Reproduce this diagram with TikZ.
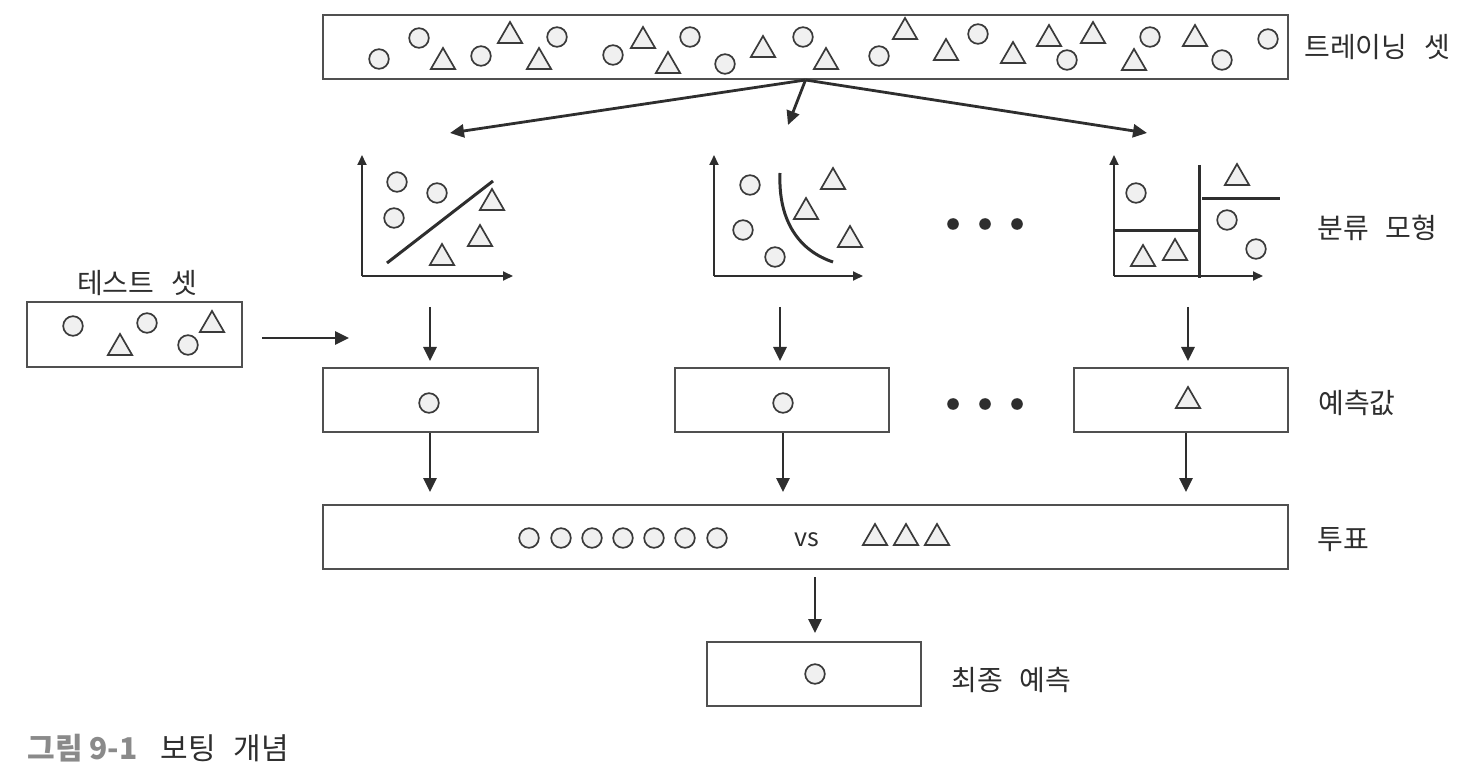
\documentclass[tikz,border=0pt]{standalone}
\usepackage{fontspec}
\setmainfont{Noto Sans CJK KR}
\usetikzlibrary{shapes.geometric,arrows.meta}
\definecolor{edge}{HTML}{505050}
\definecolor{shp}{HTML}{3A3A3A}
\definecolor{shpfill}{HTML}{F0F0F0}
\definecolor{ink}{HTML}{2E2E2E}
\definecolor{capgray}{HTML}{8A8A8A}
\newcommand\wsp{\hspace{0.6em}}
\begin{document}
\begin{tikzpicture}[x=0.5pt,y=-0.5pt,
  cir/.style={circle,draw=shp,fill=shpfill,line width=0.85pt,minimum size=9.8pt,inner sep=0pt},
  tri/.style={regular polygon,regular polygon sides=3,draw=shp,fill=shpfill,line width=0.85pt,minimum size=14pt,inner sep=0pt},
  boxn/.style={draw=edge,line width=1pt,fill=white,inner sep=0pt},
  arr/.style={draw=ink,line width=1.4pt,-{Triangle[length=7pt,width=6.5pt]}},
  axis/.style={draw=ink,line width=0.9pt,-{Triangle[length=5pt,width=4.5pt]}},
  sep/.style={draw=ink,line width=1.5pt},
  lbl/.style={anchor=west,inner sep=0pt,text=ink,font=\fontsize{14}{16}\selectfont},
  bigdot/.style={circle,fill=ink,minimum size=5.8pt,inner sep=0pt}
]
\useasboundingbox (0,0) rectangle (1482,780);

% training set
\node[boxn,minimum width=482.5pt,minimum height=32pt] (train) at (805.5,47) {};
\foreach \x/\y [count=\i] in {379/59,419/38,481/56,557/37,613/55,690/37,725/64,803/37,879/56,978/34,1067/60,1150/37,1222/60,1268/39}
  \node[cir] (tc\i) at (\x,\y) {};
\foreach \x/\y [count=\i] in {443/62,510/36,539/62,643/41,668/66,763/50,826/62,905/32,946/53,1013/56,1049/39,1093/36,1134/63,1195/39}
  \node[tri] (tt\i) at (\x,\y) {};
\node[lbl] (trainlbl) at (1304,47) {트레이닝\wsp 셋};

% arrows to models
\coordinate (in1) at (450,133);
\coordinate (in2) at (788,125);
\coordinate (in3) at (1147,133);
\draw[arr] (train.south) -- (in1);
\draw[arr] (train.south) -- (in2);
\draw[arr] (train.south) -- (in3);

% plot 1
\coordinate (o1) at (362,276);
\coordinate (y1) at (362,155);
\coordinate (x1) at (513,276);
\draw[axis] (o1) -- (y1);
\draw[axis] (o1) -- (x1);
\coordinate (l1a) at (387,263);
\coordinate (l1b) at (493,181);
\draw[sep] (l1a) -- (l1b);
\foreach \x/\y [count=\i] in {397/182,437/193,394/218}
  \node[cir] (ac\i) at (\x,\y) {};
\foreach \x/\y [count=\i] in {492/203,480/239,442/258}
  \node[tri] (at\i) at (\x,\y) {};

% plot 2
\coordinate (o2) at (714,276);
\coordinate (y2) at (714,155);
\coordinate (x2) at (863,276);
\draw[axis] (o2) -- (y2);
\draw[axis] (o2) -- (x2);
\coordinate (c2a) at (780,173);
\coordinate (c2b) at (833,262);
\draw[sep] (c2a) .. controls (778,222) and (800,251) .. (c2b);
\foreach \x/\y [count=\i] in {750/185,743/230,775/257}
  \node[cir] (bc\i) at (\x,\y) {};
\foreach \x/\y [count=\i] in {833/182,806/212,850/240}
  \node[tri] (bt\i) at (\x,\y) {};

% plot 3
\coordinate (o3) at (1114,276);
\coordinate (y3) at (1114,155);
\coordinate (x3) at (1263,276);
\draw[axis] (o3) -- (y3);
\draw[axis] (o3) -- (x3);
\coordinate (v3a) at (1199,165);
\coordinate (v3b) at (1199,278);
\draw[sep] (v3a) -- (v3b);
\coordinate (h3a) at (1114,231);
\coordinate (h3b) at (1199,231);
\draw[sep] (h3a) -- (h3b);
\coordinate (h3c) at (1202,199);
\coordinate (h3d) at (1280,199);
\draw[sep] (h3c) -- (h3d);
\foreach \x/\y [count=\i] in {1136/193,1227/220,1256/249}
  \node[cir] (cc\i) at (\x,\y) {};
\foreach \x/\y [count=\i] in {1237/178,1143/259,1175/253}
  \node[tri] (ct\i) at (\x,\y) {};

% dots
\node[bigdot] (d1) at (953,224) {};
\node[bigdot] (d2) at (985,224) {};
\node[bigdot] (d3) at (1017,224) {};
\node[lbl] (modellbl) at (1317,228) {분류\wsp 모형};

% test set
\node[inner sep=0pt,text=ink,font=\fontsize{14}{16}\selectfont] (testlbl) at (137,283) {테스트\wsp 셋};
\node[boxn,minimum width=107.5pt,minimum height=32.5pt] (test) at (134.5,334.5) {};
\node[cir] (sc1) at (73,326) {};
\node[cir] (sc2) at (147,323) {};
\node[cir] (sc3) at (188,345) {};
\node[tri] (st1) at (120,348) {};
\node[tri] (st2) at (212,325) {};
\coordinate (ta) at (262,338);
\coordinate (tb) at (349,338);
\draw[arr] (ta) -- (tb);

% model -> prediction
\node[boxn,minimum width=107.5pt,minimum height=32pt] (pred1) at (430.5,400) {};
\node[boxn,minimum width=107pt,minimum height=32pt] (pred2) at (782,400) {};
\node[boxn,minimum width=107pt,minimum height=32pt] (pred3) at (1181,400) {};
\node[cir] (pc1) at (429,403) {};
\node[cir] (pc2) at (783,403) {};
\node[tri] (pt3) at (1188,401) {};
\coordinate (m1) at (430,307);
\coordinate (m2) at (780,307);
\coordinate (m3) at (1188,307);
\draw[arr,shorten >=3pt] (m1) -- (m1 |- pred1.north);
\draw[arr,shorten >=3pt] (m2) -- (m2 |- pred2.north);
\draw[arr,shorten >=3pt] (m3) -- (m3 |- pred3.north);
\node[bigdot] (e1) at (953,404) {};
\node[bigdot] (e2) at (985,404) {};
\node[bigdot] (e3) at (1017,404) {};
\node[lbl] (predlbl) at (1318,403) {예측값};

% vote
\node[boxn,minimum width=482.5pt,minimum height=32pt] (vote) at (805.5,537) {};
\coordinate (q1) at (430,433);
\coordinate (q2) at (783,433);
\coordinate (q3) at (1186,433);
\draw[arr,shorten >=6pt] (q1) -- (q1 |- vote.north);
\draw[arr,shorten >=6pt] (q2) -- (q2 |- vote.north);
\draw[arr,shorten >=6pt] (q3) -- (q3 |- vote.north);
\foreach \x [count=\i] in {529,561,592,623,654,685,717}
  \node[cir] (vc\i) at (\x,538) {};
\node[inner sep=0pt,text=ink,font=\fontsize{12.5}{14}\selectfont] (vs) at (807,540) {vs};
\foreach \x [count=\i] in {875,906,937}
  \node[tri] (vt\i) at (\x,538) {};
\node[lbl] (votelbl) at (1317,540) {투표};

% final
\node[boxn,minimum width=107pt,minimum height=32pt] (final) at (814,674) {};
\node[cir] (fc) at (815,674) {};
\coordinate (r1) at (815,577);
\draw[arr,shorten >=4pt] (r1) -- (r1 |- final.north);
\node[lbl] (finallbl) at (951,680) {최종\wsp 예측};

% caption
\node[anchor=west,inner sep=0pt,text=capgray,font=\fontsize{15}{17}\selectfont\bfseries] (cap1) at (27,748) {그림 9-1};
\node[anchor=west,inner sep=0pt,text=ink,font=\fontsize{15}{17}\selectfont] (cap2) at (160,748) {보팅\wsp 개념};
\end{tikzpicture}
\end{document}
